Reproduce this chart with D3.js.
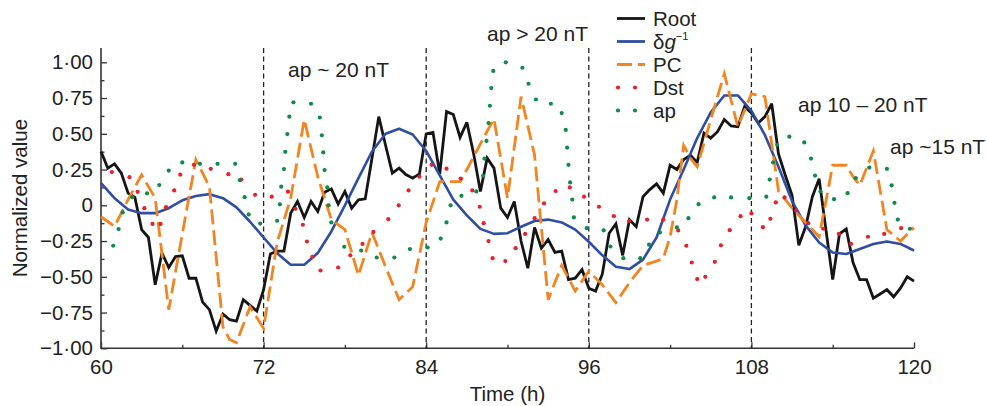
<!DOCTYPE html>
<html>
<head>
<meta charset="utf-8">
<script src="https://cdn.jsdelivr.net/npm/d3@7"></script>
<style>
  html, body { margin: 0; background: #fff; }
  svg { display: block; font-family: "Liberation Sans", Arial, Helvetica, sans-serif; }
</style>
</head>
<body>
<svg id="chart" width="987" height="406"></svg>
<script>
// ---- data -------------------------------------------------------------
// Root: half-hourly samples from 60 h to 120 h
const rootValues = [
  0.376, 0.26, 0.29, 0.225, 0.085, 0.055, -0.17, -0.225, -0.556, -0.334,
  -0.435, -0.358, -0.353, -0.51, -0.51, -0.677, -0.73, -0.88, -0.76, -0.80,
  -0.81, -0.66, -0.70, -0.74, -0.59, -0.34, -0.32, -0.32, -0.055, 0.027,
  -0.085, 0.027, -0.043, 0.092, 0.115, 0.008, 0.097, -0.02, 0.038, 0.045,
  0.33, 0.62, 0.42, 0.225, 0.26, 0.215, 0.19, 0.22, 0.50, 0.51,
  0.22, 0.655, 0.635, 0.475, 0.58, 0.36, 0.097, 0.33, 0.26, -0.02,
  -0.085, 0.027, -0.25, -0.44, -0.155, -0.30, -0.24, -0.33, -0.32, -0.52,
  -0.51, -0.45, -0.58, -0.60, -0.48, -0.195, -0.13, -0.35, -0.10, -0.15,
  0.06, 0.11, 0.15, 0.085, 0.28, 0.25, 0.32, 0.35, 0.30, 0.505,
  0.47, 0.515, 0.60, 0.555, 0.55, 0.69, 0.645, 0.575, 0.62, 0.71,
  0.36, 0.21, 0.07, -0.28, -0.15, 0.06, 0.185, -0.17, -0.52, -0.20,
  -0.165, -0.40, -0.52, -0.52, -0.65, -0.62, -0.59, -0.64, -0.58, -0.50,
  -0.53
];
const rootHours = rootValues.map((_, i) => 60 + i * 0.5);

// δg⁻¹: hourly samples from 60 h to 120 h
const dgValues = [
  0.155, 0.05, -0.03, -0.055, -0.055, -0.02, 0.035, 0.065, 0.078, 0.05,
  -0.015, -0.115, -0.225, -0.335, -0.416, -0.416, -0.334, -0.183, 0.0, 0.19,
  0.376, 0.50, 0.535, 0.495, 0.38, 0.21, 0.04, -0.07, -0.165, -0.20,
  -0.195, -0.15, -0.11, -0.10, -0.12, -0.17, -0.255, -0.35, -0.43, -0.446,
  -0.38, -0.225, 0.04, 0.25, 0.47, 0.65, 0.768, 0.768, 0.66, 0.49,
  0.27, 0.03, -0.14, -0.26, -0.33, -0.34, -0.305, -0.27, -0.253, -0.27,
  -0.316
];
const dgHours = dgValues.map((_, i) => 60 + i);

// PC
const pcHours = [
  60, 61, 62, 63, 64, 65, 66, 67, 68, 69, 69.5, 70, 71, 72, 73, 74, 75, 76, 77, 78,
  79, 80, 81, 82, 83, 84, 85, 86.5, 87, 88, 89, 90, 91, 92, 93, 94, 95, 96, 97, 98,
  99, 100, 101, 101.5, 102, 102.5, 103, 103.5, 104, 105, 106, 107, 108, 109, 110, 111, 112, 113, 114, 115,
  115.5, 116, 117, 118, 119, 120
];
const pcValues = [
  -0.08, -0.148, 0.04, 0.213, 0.05, -0.73, -0.2, 0.32, 0.13, -0.85, -0.94, -0.96, -0.71, -0.86, -0.26, 0.05, 0.60, 0.2, -0.1, -0.17,
  -0.49, -0.19, -0.43, -0.66, -0.57, -0.12, 0.166, 0.166, 0.25, 0.43, 0.605, 0.05, 0.76, 0.35, -0.66, -0.42, -0.60, -0.46, -0.556, -0.68,
  -0.54, -0.42, -0.39, -0.37, -0.22, 0.04, 0.42, 0.33, 0.27, 0.60, 0.92, 0.55, 0.78, 0.76, 0.10, -0.02, -0.12, -0.22, 0.28, 0.28,
  0.2, 0.14, 0.38, -0.17, -0.25, -0.155
];

// Dst
const dstHours = [
  60.8, 62.1, 62.7, 63.2, 63.8, 64.4, 64.8, 65.4, 65.85, 66.86, 68.1, 69.4, 70.35, 71.37, 72.6, 73.8,
  74.35, 74.9, 75.2, 75.6, 76.2, 77.5, 78.4, 79.3, 80.1, 81.2, 81.97, 82.7, 83.5, 84.4, 85.5, 86.55,
  87.4, 87.95, 88.24, 88.6, 88.9, 89.84, 90.6, 91.3, 92.0, 92.7, 93.55, 94.6, 95.65, 96.75, 97.85, 98.97,
  100.3, 101.5, 102.6, 103.2, 103.6, 104.0, 104.6, 105.3, 105.75, 106.4, 107.2, 108.0, 108.85, 109.4, 109.8,
  110.45, 111.3, 112.2, 113.3, 114.45, 115.35, 116.6, 117.8, 119.05
];
const dstValues = [
  0.232, 0.197, 0.094, -0.02, -0.13, -0.13, -0.013, 0.104, 0.215, 0.283, 0.255, 0.218, 0.18, 0.073, 0.06, 0.095,
  -0.024, -0.136, -0.253, -0.36, -0.456, -0.435, -0.35, -0.27, -0.186, -0.097, 0.0, 0.104, 0.2, 0.283, 0.256, 0.187,
  0.104, -0.01, -0.125, -0.25, -0.37, -0.39, -0.30, -0.2, -0.09, 0.013, 0.10, 0.125, 0.06, -0.01, -0.076, -0.11,
  -0.1, -0.1, -0.176, -0.283, -0.40, -0.516, -0.50, -0.395, -0.28, -0.174, -0.076, -0.057, -0.153, -0.094, 0.02,
  0.055, -0.036, -0.125, -0.164, -0.2, -0.27, -0.22, -0.2, -0.16
];

// ap
const apHours = [
  60.9, 61.3, 61.6, 62.3, 63.4, 64.3, 65.0, 66.0, 67.3, 68.6, 69.9, 70.25, 70.6, 70.9, 71.75, 73.0,
  73.2, 73.3, 73.5, 73.6, 73.75, 73.9, 74.2, 75.5, 76.15, 76.3, 76.4, 76.5, 76.7, 76.8, 77.0, 77.95,
  79.2, 80.35, 81.65, 82.8, 84.1, 85.07, 85.5, 85.8, 86.6, 87.7, 88.2, 88.3, 88.45, 88.6, 88.7, 88.8,
  88.95, 89.87, 91.1, 91.55, 92.1, 93.2, 94.0, 94.3, 94.4, 94.5, 94.62, 94.78, 94.9, 95.85, 97.1, 97.6,
  98.55, 99.8, 100.45, 101.25, 102.5, 103.35, 104.1, 105.25, 106.5, 107.85, 109.1, 109.35, 109.6, 109.9,
  110.8, 111.9, 112.4, 112.7, 113.1, 114.1, 115.1, 115.7, 116.7, 118.0, 118.35, 118.56, 118.8, 119.7
];
const apValues = [
  -0.283, -0.166, -0.05, 0.057, 0.084, 0.142, 0.243, 0.30, 0.29, 0.29, 0.29, 0.176, 0.057, -0.064, -0.128, -0.108,
  0.007, 0.13, 0.253, 0.374, 0.498, 0.62, 0.72, 0.71, 0.614, 0.49, 0.37, 0.246, 0.125, 0.0, -0.12, -0.29,
  -0.316, -0.365, -0.365, -0.306, -0.295, -0.233, -0.12, 0.0, 0.066, 0.097, 0.206, 0.327, 0.45, 0.575, 0.696, 0.82,
  0.94, 1.0, 0.962, 0.85, 0.74, 0.71, 0.645, 0.527, 0.404, 0.283, 0.16, 0.04, -0.085, -0.16, -0.175, -0.288,
  -0.37, -0.37, -0.275, -0.19, -0.155, -0.09, 0.008, 0.055, 0.055, 0.05, 0.06, 0.18, 0.30, 0.423,
  0.48, 0.44, 0.327, 0.208, 0.097, 0.043, 0.085, 0.19, 0.264, 0.255, 0.14, 0.017, -0.10, -0.164
];

const xTicks = [60, 72, 84, 96, 108, 120];
const xMinorTicks = [66, 78, 90, 102, 114];
const yTicks = [-1, -0.75, -0.5, -0.25, 0, 0.25, 0.5, 0.75, 1];
const yMinorTicks = [-0.875, -0.625, -0.375, -0.125, 0.125, 0.375, 0.625, 0.875];
const phaseMarks = [72, 84, 96, 108];
const phaseLabels = ["ap ~ 20 nT", "ap > 20 nT", "ap 10 \u2013 20 nT", "ap ~15 nT"];
const legendLabels = ["Root", "\u03b4g", "PC", "Dst", "ap"];

// ---- layout ----------------------------------------------------------
const svg = d3.select("#chart");
const colors = { root: "#151515", dg: "#2f4da3", pc: "#f4841f", dst: "#e8202a", ap: "#0f8a47" };
const FONT = 20.5;
const NOTE_FONT = 21;

const x = d3.scaleLinear().domain([60, 120]).range([101, 914]);
const y = d3.scaleLinear().domain([-1, 1]).range([348.3, 62.3]);
const yTop = y(1.1);

// axes
const axisColor = "#333";
const yAxis = svg.append("g").attr("transform", `translate(${x(60)},0)`)
  .call(d3.axisLeft(y).tickValues(yTicks).tickSizeInner(-6).tickSizeOuter(0).tickPadding(8)
    .tickFormat(v => v === 0 ? "0" : (v < 0 ? "\u2212" : "") + Math.abs(v).toFixed(2).replace(".", "\u00b7")));
yAxis.select(".domain").remove();
svg.append("g").attr("transform", `translate(${x(60)},0)`)
  .call(d3.axisLeft(y).tickValues(yMinorTicks).tickSizeInner(-3.5).tickSizeOuter(0).tickFormat(""))
  .select(".domain").remove();

const xAxis = svg.append("g").attr("transform", `translate(0,${y(-1)})`)
  .call(d3.axisBottom(x).tickValues(xTicks).tickSizeInner(-6).tickSizeOuter(0).tickPadding(11).tickFormat(d3.format("d")));
xAxis.select(".domain").remove();
svg.append("g").attr("transform", `translate(0,${y(-1)})`)
  .call(d3.axisBottom(x).tickValues(xMinorTicks).tickSizeInner(-3.5).tickSizeOuter(0).tickFormat(""))
  .select(".domain").remove();

svg.selectAll(".tick line").attr("stroke", axisColor).attr("stroke-width", 1.3);
svg.selectAll(".tick text").attr("font-size", FONT).attr("fill", "#222")
  .attr("font-family", "\"Liberation Sans\", Arial, sans-serif");

// axis lines
svg.append("path")
  .attr("d", `M${x(60)},${yTop}V${y(-1)}H${x(120)}`)
  .attr("fill", "none").attr("stroke", axisColor).attr("stroke-width", 1.6);

// axis titles
svg.append("text").attr("x", (x(60) + x(120)) / 2).attr("y", 401)
  .attr("text-anchor", "middle").attr("font-size", FONT).attr("fill", "#222").text("Time (h)");
svg.append("text").attr("transform", `translate(27,${(yTop + y(-1)) / 2}) rotate(-90)`)
  .attr("text-anchor", "middle").attr("font-size", FONT).attr("fill", "#222").text("Normalized value");

// phase boundaries
svg.append("g").selectAll("line").data(phaseMarks).join("line")
  .attr("x1", d => x(d)).attr("x2", d => x(d))
  .attr("y1", yTop).attr("y2", y(-1))
  .attr("stroke", "#222").attr("stroke-width", 1.3).attr("stroke-dasharray", "5,3.5");

// phase annotations
const labelPos = [[288, 77], [487, 41], [798, 112], [890, 154]];
svg.append("g").selectAll("text").data(phaseLabels).join("text")
  .attr("x", (d, i) => labelPos[i][0]).attr("y", (d, i) => labelPos[i][1])
  .attr("font-size", NOTE_FONT).attr("fill", "#222").text(d => d);

// ---- series ----------------------------------------------------------
const line = d3.line().x(d => x(d[0])).y(d => y(d[1]));
const zip = (a, b) => a.map((t, i) => [t, b[i]]);

svg.append("path").datum(zip(rootHours, rootValues)).attr("d", line)
  .attr("fill", "none").attr("stroke", colors.root).attr("stroke-width", 2.8)
  .attr("stroke-linejoin", "miter").attr("stroke-miterlimit", 3);

svg.append("path").datum(zip(dgHours, dgValues)).attr("d", line)
  .attr("fill", "none").attr("stroke", colors.dg).attr("stroke-width", 2.6)
  .attr("stroke-linejoin", "round");

svg.append("path").datum(zip(pcHours, pcValues)).attr("d", line)
  .attr("fill", "none").attr("stroke", colors.pc).attr("stroke-width", 2.8)
  .attr("stroke-dasharray", "15,6");

svg.append("g").selectAll("circle").data(zip(dstHours, dstValues)).join("circle")
  .attr("cx", d => x(d[0])).attr("cy", d => y(d[1])).attr("r", 2.1).attr("fill", colors.dst);

svg.append("g").selectAll("circle").data(zip(apHours, apValues)).join("circle")
  .attr("cx", d => x(d[0])).attr("cy", d => y(d[1])).attr("r", 2.1).attr("fill", colors.ap);

// ---- legend ----------------------------------------------------------
const lg = svg.append("g");
const lx0 = 617, lx1 = 645, ltx = 653, rowY = i => 18.5 + i * 23;
legendLabels.forEach((lab, i) => {
  const cy = rowY(i);
  if (i === 0 || i === 1) {
    lg.append("line").attr("x1", lx0).attr("x2", lx1).attr("y1", cy).attr("y2", cy)
      .attr("stroke", i === 0 ? colors.root : colors.dg).attr("stroke-width", 2.8);
  } else if (i === 2) {
    lg.append("line").attr("x1", lx0).attr("x2", lx1).attr("y1", cy).attr("y2", cy)
      .attr("stroke", colors.pc).attr("stroke-width", 2.8).attr("stroke-dasharray", "15,6");
  } else {
    [lx0 + 1, lx0 + 18].forEach(cx => lg.append("circle").attr("cx", cx).attr("cy", cy)
      .attr("r", 2.1).attr("fill", i === 3 ? colors.dst : colors.ap));
  }
  const t = lg.append("text").attr("x", ltx).attr("y", cy + 7.5).attr("font-size", FONT).attr("fill", "#222");
  if (i === 1) {
    t.append("tspan").text("\u03b4");
    t.append("tspan").attr("font-style", "italic").text("g");
    t.append("tspan").attr("font-size", 11).attr("dy", -9).text("\u22121");
  } else {
    t.text(lab);
  }
});
</script>
</body>
</html>
